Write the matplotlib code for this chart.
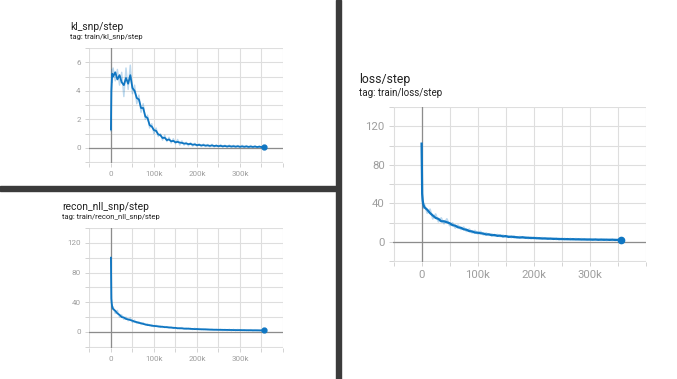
import matplotlib
matplotlib.use("Agg")
import matplotlib.pyplot as plt
from matplotlib.patches import Rectangle

plt.rcParams['font.family'] = ['Roboto', 'DejaVu Sans']

W, H = 677, 379

# training steps (shared by all three scalars)
steps = [0, 1000, 2000, 3000] + list(range(5000, 355001, 5000))

# kl_snp : smoothed / raw
kl_smooth = [1.3, 4.0, 4.7, 5.2, 5.0, 5.3, 4.8, 5.1, 4.6, 4.4,
             4.9, 4.5, 5.1, 4.2, 4.0, 3.5, 3.4, 2.8, 2.8, 2.2,
             2.1, 1.6, 1.5, 1.25, 1.2, 0.95, 0.9, 0.7, 0.72, 0.55,
             0.6, 0.47, 0.5, 0.4, 0.43, 0.38, 0.36, 0.31, 0.32, 0.27,
             0.29, 0.23, 0.25, 0.2, 0.22, 0.18, 0.2, 0.17, 0.18, 0.15,
             0.18, 0.14, 0.16, 0.13, 0.15, 0.12, 0.14, 0.11, 0.13, 0.11,
             0.12, 0.1, 0.12, 0.09, 0.11, 0.09, 0.11, 0.08, 0.1, 0.08,
             0.1, 0.07, 0.09, 0.07, 0.08]
kl_raw = [1.2, 4.1, 5.5, 4.6, 5.6, 4.7, 5.5, 4.4, 5.3, 3.6,
          5.6, 4.1, 5.8, 3.8, 4.4, 3.1, 3.7, 2.5, 3.1, 2.0,
          2.3, 1.4, 1.7, 1.0, 1.4, 0.8, 1.0, 0.55, 0.9, 0.45,
          0.75, 0.35, 0.65, 0.3, 0.6, 0.2, 0.5, 0.2, 0.4, 0.15,
          0.38, 0.13, 0.33, 0.12, 0.3, 0.1, 0.28, 0.1, 0.25, 0.08,
          0.26, 0.07, 0.22, 0.06, 0.24, 0.06, 0.2, 0.05, 0.21, 0.04,
          0.19, 0.04, 0.18, 0.03, 0.19, 0.03, 0.17, 0.02, 0.18, 0.02,
          0.16, 0.02, 0.15, 0.02, 0.1]

# recon_nll_snp
recon_smooth = [100, 45, 38, 34, 31, 28.5, 25, 23, 20, 19.5,
                17.5, 17, 16, 15.2, 13.8, 13.3, 12.2, 11.8, 10.8, 10.2,
                9.3, 9.2, 8.3, 8.2, 7.8, 7.6, 6.9, 7.1, 6.4, 6.6,
                5.9, 6.1, 5.4, 5.6, 4.9, 5.1, 4.8, 4.6, 4.3, 4.6,
                4.1, 4.1, 3.8, 4.0, 3.6, 3.7, 3.4, 3.6, 3.2, 3.3,
                3.0, 3.1, 2.9, 3.0, 2.8, 2.9, 2.7, 2.8, 2.6, 2.7,
                2.5, 2.6, 2.4, 2.6, 2.3, 2.5, 2.2, 2.4, 2.2, 2.3,
                2.1, 2.3, 2.0, 2.2, 2.1]
recon_raw = [100, 40, 35, 31, 34, 25, 29, 20, 23, 17,
             20, 15, 19, 13, 16, 11.5, 14, 10, 12.5, 9,
             11, 8, 10, 7, 9, 6.5, 8.5, 6, 7.5, 5.5,
             7, 5, 6.5, 4.5, 6, 4, 6, 3.8, 5.5, 3.5,
             5.2, 3.2, 5, 3, 4.8, 2.8, 4.5, 2.6, 4.2, 2.4,
             4, 2.2, 3.8, 2.1, 3.8, 1.9, 3.6, 1.8, 3.6, 1.7,
             3.5, 1.6, 3.4, 1.6, 3.3, 1.5, 3.2, 1.4, 3.2, 1.3,
             3.1, 1.3, 3.0, 1.2, 2.1]

# loss
loss_smooth = [102, 50, 43, 39, 36, 33.5, 30, 27.5, 25, 24,
               21.5, 21.5, 20.5, 19.5, 17.5, 17, 15.2, 14.8, 13.2, 12.8,
               11.3, 11, 9.8, 9.7, 9.1, 8.8, 7.8, 8, 7, 7.3,
               6.4, 6.7, 5.8, 6.2, 5.3, 5.6, 5.1, 5, 4.6, 5,
               4.4, 4.5, 4.1, 4.3, 3.9, 4, 3.6, 3.8, 3.4, 3.6,
               3.2, 3.4, 3.0, 3.2, 2.9, 3.1, 2.8, 3.0, 2.7, 2.9,
               2.6, 2.8, 2.5, 2.7, 2.4, 2.7, 2.3, 2.6, 2.3, 2.5,
               2.2, 2.5, 2.1, 2.3, 2.2]
loss_raw = [102, 46, 40, 35, 39, 30, 34, 24, 29, 21,
            25, 19, 24, 17, 20, 14.5, 17.5, 13, 15.5, 11,
            13.5, 9.5, 12, 8.5, 11, 7.5, 9.5, 7, 8.5, 6.2,
            7.8, 5.6, 7.2, 5.2, 6.4, 4.6, 6.3, 4.2, 5.7, 4,
            5.4, 3.6, 5.1, 3.4, 4.8, 3.1, 4.6, 3, 4.3, 2.8,
            4.1, 2.6, 3.9, 2.4, 3.8, 2.2, 3.7, 2.1, 3.6, 2,
            3.5, 1.9, 3.4, 1.9, 3.3, 1.8, 3.2, 1.7, 3.2, 1.6,
            3.1, 1.6, 3.0, 1.5, 2.2]

x_grid = [-50000, 0, 50000, 100000, 150000, 200000, 250000, 300000, 350000, 400000]
x_labels = ['', '0', '', '100k', '', '200k', '', '300k', '', '']

BLUE = '#0f76c2'
GRID = '#dedede'
ZERO = '#8c8c8c'
TXT = '#9e9e9e'


def panel(rect_px, raw, smooth, ylim, y_grid, y_labels, fs, lw, ms):
    l, t, r, b = rect_px
    ax = fig.add_axes([l / W, 1 - b / H, (r - l) / W, (b - t) / H])
    ax.axhline(0, color=ZERO, lw=0.9, zorder=1)
    ax.axvline(0, color=ZERO, lw=0.9, zorder=1)
    ax.plot(steps, raw, color=BLUE, alpha=0.28, lw=lw * 0.8, zorder=2)
    ax.plot(steps, smooth, color=BLUE, lw=lw, zorder=3)
    ax.plot(steps[-1], smooth[-1], 'o', color=BLUE, ms=ms, zorder=4)
    ax.set_xlim(-51000, 398000)
    ax.set_ylim(*ylim)
    ax.set_xticks(x_grid)
    ax.set_xticklabels(x_labels)
    ax.set_yticks(y_grid)
    ax.set_yticklabels(y_labels)
    ax.grid(True, color=GRID, lw=0.8, zorder=0)
    ax.set_axisbelow(True)
    for s in ax.spines.values():
        s.set_visible(False)
    ax.tick_params(length=3, width=0.6, color='#cccccc', labelcolor=TXT,
                   labelsize=fs, pad=3)
    return ax


fig = plt.figure(figsize=(W / 100, H / 100), dpi=100)

# kl panel
panel((89, 48, 283, 163), kl_raw, kl_smooth, (-1.05, 7),
      [-1, 0, 1, 2, 3, 4, 5, 6, 7], ['', '0', '', '2', '', '4', '', '6', ''],
      5.8, 1.3, 3.5)
fig.text(70 / W, 1 - 27 / H, 'kl_snp/step', fontsize=7.4, color='#212121', va='center')
fig.text(70 / W, 1 - 37 / H, 'tag: train/kl_snp/step', fontsize=5.5, color='#212121', va='center')

# recon panel
panel((89, 228, 283, 348), recon_raw, recon_smooth, (-21.6, 140),
      [-20, 0, 20, 40, 60, 80, 100, 120, 140], ['', '0', '', '40', '', '80', '', '120', ''],
      5.8, 1.3, 3.5)
fig.text(62 / W, 1 - 207 / H, 'recon_nll_snp/step', fontsize=7.4, color='#212121', va='center')
fig.text(62 / W, 1 - 217 / H, 'tag: train/recon_nll_snp/step', fontsize=5.5, color='#212121', va='center')

# loss panel
panel((393, 107, 646, 262), loss_raw, loss_smooth, (-20.7, 140),
      [-20, 0, 20, 40, 60, 80, 100, 120, 140], ['', '0', '', '40', '', '80', '', '120', ''],
      8.2, 1.6, 4.5)
fig.text(359 / W, 1 - 80 / H, 'loss/step', fontsize=8.8, color='#212121', va='center')
fig.text(359 / W, 1 - 93 / H, 'tag: train/loss/step', fontsize=7.0, color='#212121', va='center')

# dark separators between the screenshots
fig.patches.append(Rectangle((336 / W, 0), 5 / W, 1, transform=fig.transFigure,
                             color='#3b3b3b', zorder=10))
fig.patches.append(Rectangle((0, 1 - 191 / H), 336 / W, 5 / H, transform=fig.transFigure,
                             color='#3b3b3b', zorder=10))

fig.savefig('out.png', dpi=100)
